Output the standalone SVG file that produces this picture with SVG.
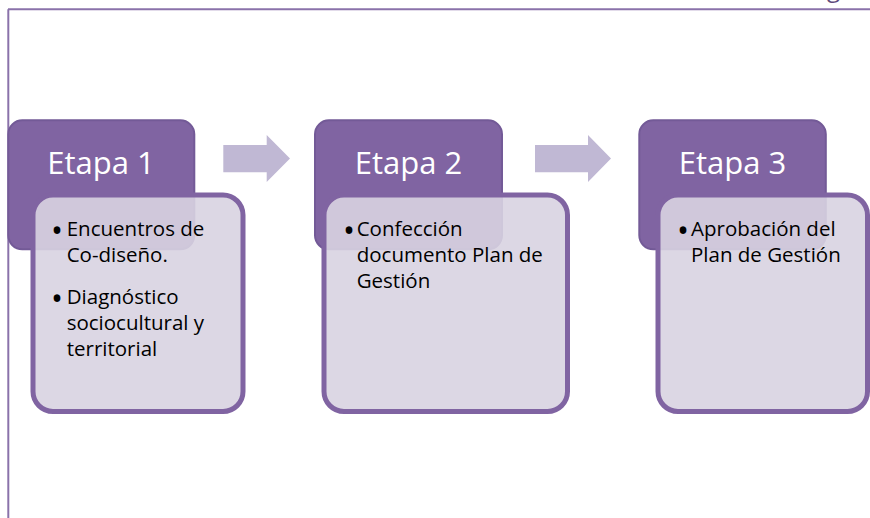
<svg xmlns="http://www.w3.org/2000/svg" width="870" height="518" viewBox="0 0 870 518">
<style>
.frame{stroke:#8a72aa;stroke-width:2;fill:none}
.head{fill:#8064a2;stroke:#735a97;stroke-width:2}
.body{fill:#d8d3e1;fill-opacity:0.9;stroke:#8064a2;stroke-width:5}
.title{font-family:"Open Sans","Liberation Sans",sans-serif;font-size:31px;fill:#ffffff;text-anchor:middle}
.txt{font-family:"Open Sans","Liberation Sans",sans-serif;font-size:20.5px;fill:#000000}
.bul{font-family:"Open Sans","Liberation Sans",sans-serif;font-size:32px;fill:#000000}
.arrow{fill:#c0b8d4}
.hdr{font-family:"Open Sans","Liberation Sans",sans-serif;font-size:24px;fill:#604a7b}
</style>
<rect width="870" height="518" fill="#ffffff"/>
<g id="frame">
<line class="frame" x1="8" y1="9.3" x2="870" y2="9.3"/>
<line class="frame" x1="8.3" y1="9.3" x2="8.3" y2="518"/>
<text class="hdr" x="827" y="-3">g</text>
</g>
<g id="connectors">
<polygon class="arrow" points="223.3,145 266.7,145 266.7,135 290,158.5 266.7,182 266.7,172.3 223.3,172.3"/>
<polygon class="arrow" points="535,145 588,145 588,135 611,158.5 588,182 588,172.3 535,172.3"/>
</g>
<g id="etapa1">
<rect class="head" x="8.3" y="120.3" width="186" height="129" rx="14"/>
<rect class="body" x="33" y="195" width="210" height="216.5" rx="20"/>
<text class="title" x="101" y="174.3">Etapa 1</text>
<text class="bul" x="51" y="241.5">•</text>
<text class="txt" x="66.7" y="235.5">Encuentros de</text>
<text class="txt" x="66.7" y="261.5">Co-diseño.</text>
<text class="bul" x="51" y="309.5">•</text>
<text class="txt" x="66.7" y="303.5">Diagnóstico</text>
<text class="txt" x="66.7" y="329.5">sociocultural y</text>
<text class="txt" x="66.7" y="355.5">territorial</text>
</g>
<g id="etapa2">
<rect class="head" x="315" y="120.3" width="187" height="129" rx="14"/>
<rect class="body" x="324" y="195" width="243.5" height="216.5" rx="20"/>
<text class="title" x="408.5" y="174.3">Etapa 2</text>
<text class="bul" x="343" y="241.5">•</text>
<text class="txt" x="356.7" y="235.5">Confección</text>
<text class="txt" x="356.7" y="261.5">documento Plan de</text>
<text class="txt" x="356.7" y="287.5">Gestión</text>
</g>
<g id="etapa3">
<rect class="head" x="639.3" y="120.3" width="186.5" height="129" rx="14"/>
<rect class="body" x="658" y="195" width="209.5" height="216.5" rx="20"/>
<text class="title" x="732.5" y="174.3">Etapa 3</text>
<text class="bul" x="677" y="241.5">•</text>
<text class="txt" x="691" y="235.5">Aprobación del</text>
<text class="txt" x="691" y="261.5">Plan de Gestión</text>
</g>
</svg>
